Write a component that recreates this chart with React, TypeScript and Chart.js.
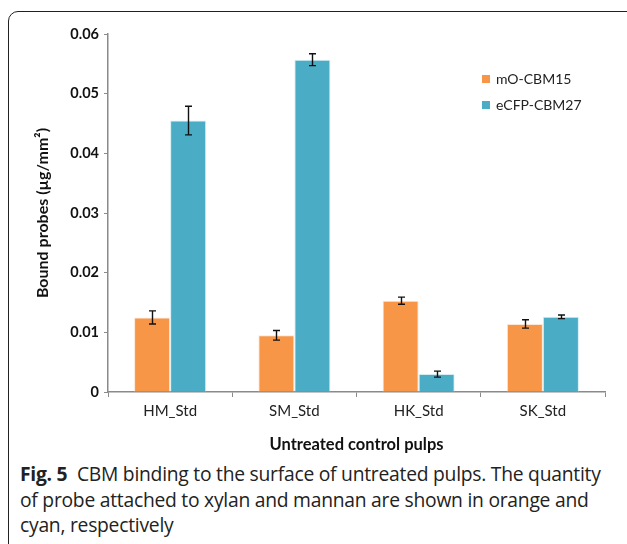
import React, { useEffect, useRef } from "react";
import { Chart, registerables } from "chart.js";

Chart.register(...registerables);

const categories = ["HM_Std", "SM_Std", "HK_Std", "SK_Std"];
const seriesNames = ["mO-CBM15", "eCFP-CBM27"];
const mOValues = [0.0125, 0.0095, 0.0153, 0.0114];
const mOErrors = [0.0011, 0.0008, 0.0006, 0.0007];
const eCFPValues = [0.0455, 0.0557, 0.003, 0.0126];
const eCFPErrors = [0.0024, 0.001, 0.0005, 0.0003];
const yTickLabels = ["0", "0.01", "0.02", "0.03", "0.04", "0.05", "0.06"];
const colors = ["#F79646", "#4BACC6"];

const FONT = "Lato, 'Open Sans', sans-serif";

const errorBarPlugin = {
  id: "errorBars",
  afterDatasetsDraw(chart: any) {
    const ctx = chart.ctx;
    const yScale = chart.scales.y;
    const errs = [mOErrors, eCFPErrors];
    ctx.save();
    ctx.strokeStyle = "#111";
    ctx.lineWidth = 1.4;
    chart.data.datasets.forEach((ds: any, di: number) => {
      const meta = chart.getDatasetMeta(di);
      meta.data.forEach((bar: any, i: number) => {
        const v = ds.data[i];
        const e = errs[di][i];
        const x = Math.round(bar.x) + 0.5;
        const yt = yScale.getPixelForValue(v + e);
        const yb = yScale.getPixelForValue(v - e);
        ctx.beginPath();
        ctx.moveTo(x, yt);
        ctx.lineTo(x, yb);
        ctx.moveTo(x - 3.5, yt);
        ctx.lineTo(x + 3.5, yt);
        ctx.moveTo(x - 3.5, yb);
        ctx.lineTo(x + 3.5, yb);
        ctx.stroke();
      });
    });
    ctx.restore();
  },
};

const legendPlugin = {
  id: "customLegend",
  afterDraw(chart: any) {
    const ctx = chart.ctx;
    ctx.save();
    ctx.font = `14px ${FONT}`;
    ctx.textBaseline = "middle";
    ctx.textAlign = "left";
    const ys = [79, 105];
    seriesNames.forEach((name, i) => {
      ctx.fillStyle = colors[i];
      ctx.fillRect(482, ys[i] - 4, 8, 8);
      ctx.fillStyle = "#222";
      ctx.fillText(name, 496, ys[i]);
    });
    ctx.restore();
  },
};

function BarChart() {
  const ref = useRef<HTMLCanvasElement>(null);
  useEffect(() => {
    if (!ref.current) return;
    const chart = new Chart(ref.current, {
      type: "bar",
      data: {
        labels: categories,
        datasets: [
          {
            label: seriesNames[0],
            data: mOValues,
            backgroundColor: colors[0],
            borderColor: "#fde6d3",
            borderWidth: 1,
            categoryPercentage: 0.58,
            barPercentage: 1,
          },
          {
            label: seriesNames[1],
            data: eCFPValues,
            backgroundColor: colors[1],
            borderColor: "#d2edf3",
            borderWidth: 1,
            categoryPercentage: 0.58,
            barPercentage: 1,
          },
        ],
      },
      options: {
        animation: false,
        responsive: true,
        maintainAspectRatio: false,
        layout: { padding: { left: 0, right: 22, top: 34, bottom: 0 } },
        plugins: {
          legend: { display: false },
          tooltip: { enabled: false },
        },
        scales: {
          x: {
            grid: {
              display: true,
              drawOnChartArea: false,
              offset: true,
              tickLength: 5,
              color: "#8a8a8a",
            },
            border: { display: true, color: "#8a8a8a", width: 1.5 },
            ticks: {
              font: { family: FONT, size: 15 },
              color: "#222",
              padding: 5,
            },
            title: {
              display: true,
              text: "Untreated control pulps",
              font: { family: FONT, size: 16.5, weight: "bold" },
              color: "#111",
              padding: { top: 5, bottom: 0 },
            },
            afterFit(scale: any) {
              scale.height = 63;
            },
          },
          y: {
            min: 0,
            max: 0.06,
            grid: {
              display: true,
              drawOnChartArea: false,
              tickLength: 4,
              color: "#8a8a8a",
            },
            border: { display: true, color: "#8a8a8a", width: 1.5 },
            ticks: {
              stepSize: 0.01,
              font: { family: FONT, size: 14.5, weight: "bold" },
              color: "#111",
              padding: 5,
              callback: (_v: any, i: number) => yTickLabels[i],
            },
            title: {
              display: true,
              text: "Bound probes (µg/mm²)",
              font: { family: FONT, size: 16, weight: "bold" },
              color: "#111",
              padding: { top: 33, bottom: 0 },
            },
            afterFit(scale: any) {
              scale.width = 108;
            },
          },
        },
      },
      plugins: [errorBarPlugin, legendPlugin],
    });
    return () => chart.destroy();
  }, []);
  return <canvas ref={ref} />;
}

export default function App() {
  return (
    <div
      style={{
        position: "fixed",
        left: 0,
        top: 0,
        width: 627,
        height: 544,
        overflow: "hidden",
        background: "#fff",
      }}
    >
      <div
        style={{
          position: "absolute",
          left: 8,
          top: 11,
          width: 630,
          height: 560,
          border: "1.5px solid #222",
          borderRadius: 10,
          boxSizing: "border-box",
        }}
      />
      <div style={{ position: "absolute", left: 0, top: 0, width: 627, height: 455 }}>
        <BarChart />
      </div>
      <div
        style={{
          position: "absolute",
          left: 20,
          top: 461,
          fontFamily: "'Open Sans', 'Noto Sans', sans-serif",
          fontSize: 19.3,
          lineHeight: "25.5px",
          color: "#222",
          whiteSpace: "nowrap",
          letterSpacing: "-0.25px",
        }}
      >
        <b>Fig. 5</b>&nbsp; CBM binding to the surface of untreated pulps. The quantity
        <br />
        of probe attached to xylan and mannan are shown in orange and
        <br />
        cyan, respectively
      </div>
    </div>
  );
}
